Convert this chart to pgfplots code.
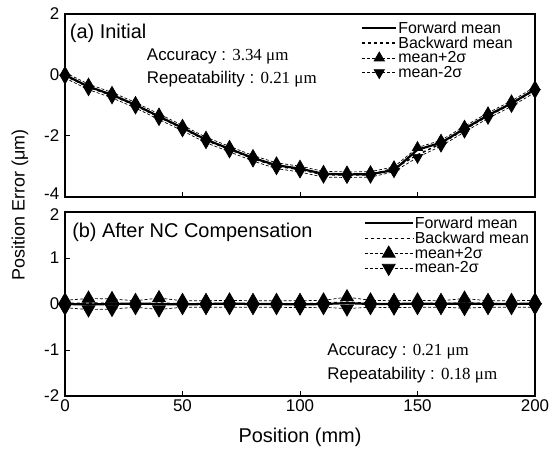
\documentclass[border=0pt]{standalone}
\usepackage{pgfplots}
\pgfplotsset{compat=1.18}
\usepackage{fontspec}
\setmainfont{Liberation Sans}
\newfontfamily\tnr{Liberation Serif}

\pgfplotstableread{
x    fwd    bwd    plus   minus
0    0.00  -0.02   0.08  -0.10
10  -0.38  -0.40  -0.30  -0.48
20  -0.65  -0.67  -0.57  -0.75
30  -0.98  -1.00  -0.90  -1.08
40  -1.36  -1.38  -1.28  -1.46
50  -1.73  -1.75  -1.65  -1.83
60  -2.12  -2.14  -2.04  -2.22
70  -2.42  -2.44  -2.34  -2.52
80  -2.72  -2.74  -2.64  -2.82
90  -2.96  -2.99  -2.88  -3.07
100 -3.07  -3.10  -2.99  -3.18
110 -3.24  -3.27  -3.16  -3.35
120 -3.26  -3.28  -3.18  -3.36
130 -3.25  -3.27  -3.17  -3.35
140 -3.12  -3.06  -3.01  -3.17
150 -2.45  -2.62  -2.38  -2.70
160 -2.22  -2.25  -2.14  -2.33
170 -1.76  -1.79  -1.68  -1.87
180 -1.32  -1.34  -1.24  -1.42
190 -0.93  -0.95  -0.85  -1.03
200 -0.47  -0.49  -0.39  -0.57
}\topdata

\pgfplotstableread{
x    fwd    bwd    plus   minus
0    0.00   0.01   0.08  -0.08
10  -0.01   0.02   0.12  -0.12
20   0.00   0.01   0.11  -0.11
30   0.01  -0.01   0.07  -0.07
40   0.00   0.02   0.13  -0.12
50  -0.01   0.00   0.07  -0.07
60   0.00   0.01   0.07  -0.07
70   0.01   0.00   0.08  -0.07
80   0.00  -0.01   0.07  -0.07
90   0.00   0.01   0.07  -0.07
100 -0.01   0.00   0.07  -0.08
110  0.00   0.02   0.08  -0.07
120   0.02  0.04   0.15  -0.10
130  0.00   0.01   0.08  -0.07
140  0.00  -0.01   0.07  -0.08
150  0.01   0.00   0.08  -0.07
160  0.00   0.01   0.07  -0.07
170  0.01   0.02   0.12  -0.09
180  0.00   0.01   0.07  -0.07
190  0.00   0.00   0.07  -0.07
200  0.01   0.00   0.08  -0.07
}\botdata

\pgfplotsset{
  myaxis/.style={
    scale only axis, width=470bp, xmin=0, xmax=200, anchor=south west,
    axis line style={line width=1.4pt}, tick align=inside,
    major tick style={black, line width=1pt}, major tick length=5bp,
    xtick={0,50,100,150,200}, xtick pos=bottom, ytick pos=left,
    tick label style={font=\fontsize{17}{17}\selectfont},
    yticklabel style={inner sep=1pt, xshift=-4.5bp},
    /pgf/number format/assume math mode=true,
    legend style={draw=none, fill=none, inner sep=0pt, anchor=north east,
      font=\fontsize{16}{16}\selectfont, row sep=0pt,
      nodes={inner sep=1pt}},
    legend cell align=left,
  },
  fwd/.style={black, line width=2.2pt, no markers},
  bwd/.style={black, dashed, line width=1.5pt, no markers},
  plus/.style={black, densely dashed, line width=0.7pt, mark=triangle*, mark options={solid}},
  minus/.style={black, densely dashed, line width=0.7pt, mark=triangle*, mark options={solid, rotate=180}},
}

\begin{document}
\begin{tikzpicture}
\useasboundingbox (0,0) rectangle (553bp,450bp);

\begin{axis}[myaxis, at={(65bp,253bp)}, height=183bp,
  ymin=-4, ymax=2, ytick={-2,0,2}, xticklabels={},
  extra y ticks={-4}, extra y tick style={yticklabel style={yshift=3bp}},
  legend image code/.code={\draw[mark repeat=2,mark phase=2,#1] plot coordinates {(0bp,0bp) (17bp,0bp) (34bp,0bp)};},
  legend style={at={(0.955,0.965)}}]
\addplot[fwd] table[x=x,y=fwd] {\topdata};
\addlegendentry{Forward mean}
\addplot[bwd] table[x=x,y=bwd] {\topdata};
\addlegendentry{Backward mean}
\addplot[plus, mark size=6pt] table[x=x,y=plus] {\topdata};
\addlegendentry{mean+2σ}
\addplot[minus, mark size=6pt] table[x=x,y=minus] {\topdata};
\addlegendentry{mean-2σ}
\node[anchor=west, inner sep=0pt, font=\fontsize{20}{20}\selectfont] at (axis description cs:0.01,0.895) {(a) Initial};
\node[anchor=west, inner sep=0pt, font=\fontsize{17}{17}\selectfont] at (axis description cs:0.174,0.77) {Accuracy : {\tnr 3.34 μm}};
\node[anchor=west, inner sep=0pt, font=\fontsize{17}{17}\selectfont] at (axis description cs:0.174,0.645) {Repeatability : {\tnr 0.21 μm}};
\end{axis}

\begin{axis}[myaxis, at={(65bp,54bp)}, height=184bp,
  ymin=-2, ymax=2, ytick={-2,-1,0,1},
  extra y ticks={2}, extra y tick style={yticklabel style={yshift=-3bp}},
  legend image code/.code={\draw[mark repeat=2,mark phase=2,#1] plot coordinates {(0bp,0bp) (24bp,0bp) (48bp,0bp)};},
  legend style={at={(0.99,0.98)}}]
\addplot[fwd] table[x=x,y=fwd] {\botdata};
\addlegendentry{Forward mean}
\addplot[bwd] table[x=x,y=bwd] {\botdata};
\addlegendentry{Backward mean}
\addplot[plus, mark size=7.5pt] table[x=x,y=plus] {\botdata};
\addlegendentry{mean+2σ}
\addplot[minus, mark size=7.5pt] table[x=x,y=minus] {\botdata};
\addlegendentry{mean-2σ}
\node[anchor=west, inner sep=0pt, font=\fontsize{20}{20}\selectfont] at (axis description cs:0.015,0.89) {(b) After NC Compensation};
\node[anchor=west, inner sep=0pt, font=\fontsize{17}{17}\selectfont] at (axis description cs:0.558,0.24) {Accuracy : {\tnr 0.21 μm}};
\node[anchor=west, inner sep=0pt, font=\fontsize{17}{17}\selectfont] at (axis description cs:0.558,0.115) {Repeatability : {\tnr 0.18 μm}};
\end{axis}

\node[font=\fontsize{20}{20}\selectfont] at (300bp,13bp) {Position (mm)};
\node[rotate=90, font=\fontsize{18}{18}\selectfont] at (20bp,245bp) {Position Error (μm)};
\end{tikzpicture}
\end{document}
